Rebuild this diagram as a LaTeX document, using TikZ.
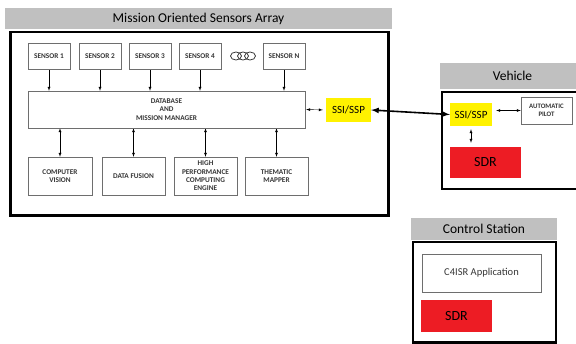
\documentclass[tikz,border=0pt]{standalone}
\usepackage{fontspec}
\setmainfont{Carlito}
\usepackage{tikz}
\definecolor{sdrred}{RGB}{237,28,36}
\definecolor{ssiyellow}{RGB}{255,242,0}
\definecolor{titlegray}{RGB}{192,192,192}
\definecolor{boxgray}{RGB}{110,110,110}
\definecolor{labelgray}{RGB}{55,55,55}
\usetikzlibrary{shapes.geometric}
\pgfdeclarelayer{edgelayer}
\pgfdeclarelayer{nodelayer}
\pgfsetlayers{edgelayer,nodelayer,main}
\tikzstyle{titlebar}=[rectangle,fill=titlegray,inner sep=0pt,font=\fontsize{13.5}{15}\selectfont]
\tikzstyle{frame}=[rectangle,draw=black,line width=2.5pt,inner sep=0pt]
\tikzstyle{unit}=[rectangle,draw=boxgray,fill=white,inner sep=1pt,align=center,text=labelgray,font=\fontsize{7.3}{8.3}\selectfont\bfseries]
\tikzstyle{ssi}=[rectangle,fill=ssiyellow,inner sep=0pt,font=\fontsize{11}{13}\selectfont]
\tikzstyle{sdr}=[rectangle,fill=sdrred,inner sep=0pt,font=\fontsize{14}{16}\selectfont]
\tikzstyle{dot}=[ellipse,draw=labelgray,thick,minimum width=11pt,minimum height=8pt,inner sep=0pt]

\begin{document}
\begin{tikzpicture}[x=1pt,y=-1pt,>=latex]
        \useasboundingbox (0,0) rectangle (576,344);
        \begin{pgfonlayer}{nodelayer}
            % sensors array
            \node [style = titlebar, minimum width=387pt, minimum height=21pt] (arraytitle) at (198.5, 18.5) {Mission Oriented Sensors Array};
            \node [style = frame, minimum width=378pt, minimum height=183.5pt] (arrayframe) at (199.5, 123.75) {};

            \node [style = unit, minimum width=42pt, minimum height=26pt] (s1) at (49, 56) {SENSOR 1};
            \node [style = unit, minimum width=42pt, minimum height=26pt] (s2) at (100, 56) {SENSOR 2};
            \node [style = unit, minimum width=42pt, minimum height=26pt] (s3) at (150, 56) {SENSOR 3};
            \node [style = unit, minimum width=42pt, minimum height=26pt] (s4) at (200, 56) {SENSOR 4};
            \node [style = dot] (dot1) at (236, 56) {};
            \node [style = dot] (dot2) at (243, 56) {};
            \node [style = dot] (dot3) at (250, 56) {};
            \node [style = unit, minimum width=42pt, minimum height=26pt] (sn) at (284, 56) {SENSOR N};

            \node [style = unit, minimum width=277pt, minimum height=37pt] (db) at (166.5, 109.5) {DATABASE\\AND\\MISSION MANAGER};

            \node [style = unit, minimum width=64pt, minimum height=38pt] (cv) at (60, 176) {COMPUTER\\VISION};
            \node [style = unit, minimum width=63pt, minimum height=38pt] (df) at (133.5, 176) {DATA FUSION};
            \node [style = unit, minimum width=63pt, minimum height=38pt] (hpc) at (205.5, 176) {HIGH\\PERFORMANCE\\COMPUTING\\ENGINE};
            \node [style = unit, minimum width=63pt, minimum height=38pt] (tm) at (276.5, 176) {THEMATIC\\MAPPER};

            \node [style = ssi, minimum width=45pt, minimum height=24pt] (ssia) at (348.5, 110) {SSI/SSP};

            % vehicle
            \node [style = titlebar, minimum width=160pt, minimum height=26pt] (vehtitle) at (520, 76) {\hspace*{-15pt}Vehicle};
            \node [style = frame, minimum width=158pt, minimum height=97pt] (vehframe) at (521, 140.5) {};
            \node [style = ssi, minimum width=42pt, minimum height=23pt] (ssiv) at (471, 114.5) {SSI/SSP};
            \node [style = unit, minimum width=51pt, minimum height=27pt, font=\fontsize{6.8}{8}\selectfont\bfseries] (pilot) at (546.5, 110.5) {AUTOMATIC\\PILOT};
            \node [style = sdr, minimum width=71pt, minimum height=31pt] (sdrv) at (485.5, 162.5) {SDR};

            % control station
            \node [style = titlebar, minimum width=146pt, minimum height=22pt] (cstitle) at (484, 229) {Control Station};
            \node [style = frame, minimum width=143pt, minimum height=100.5pt] (csframe) at (484.5, 292.25) {};
            \node [style = unit, minimum width=119pt, minimum height=38pt, font=\fontsize{10.5}{12}\selectfont] (c4isr) at (481.5, 273) {C4ISR Application};
            \node [style = sdr, minimum width=71pt, minimum height=32pt] (sdrc) at (456.5, 316) {SDR};
        \end{pgfonlayer}

        \begin{pgfonlayer}{edgelayer}
            \draw [->] (s1.south) to (s1.south |- db.north);
            \draw [->] (s2.south) to (s2.south |- db.north);
            \draw [->] (s3.south) to (s3.south |- db.north);
            \draw [->] (s4.south) to (s4.south |- db.north);
            \draw [->] (sn.south) to (sn.south |- db.north);

            \draw [<->] (cv.north) to (cv.north |- db.south);
            \draw [<->] (df.north) to (df.north |- db.south);
            \draw [<->] (hpc.north) to (hpc.north |- db.south);
            \draw [<->] (tm.north) to (tm.north |- db.south);

            \draw [<->, shorten <=1pt, shorten >=3pt] (db.east) to (ssia.west);
            \draw [<->, line width=1.6pt] (ssia.east) to (ssiv.west);
            \draw [<->, shorten <=4pt] (ssiv.east |- pilot.west) to (pilot.west);
            \draw [<->, shorten <=3pt, shorten >=4pt] (ssiv.south) to (ssiv.south |- sdrv.north);
        \end{pgfonlayer}
    \end{tikzpicture}
\end{document}
